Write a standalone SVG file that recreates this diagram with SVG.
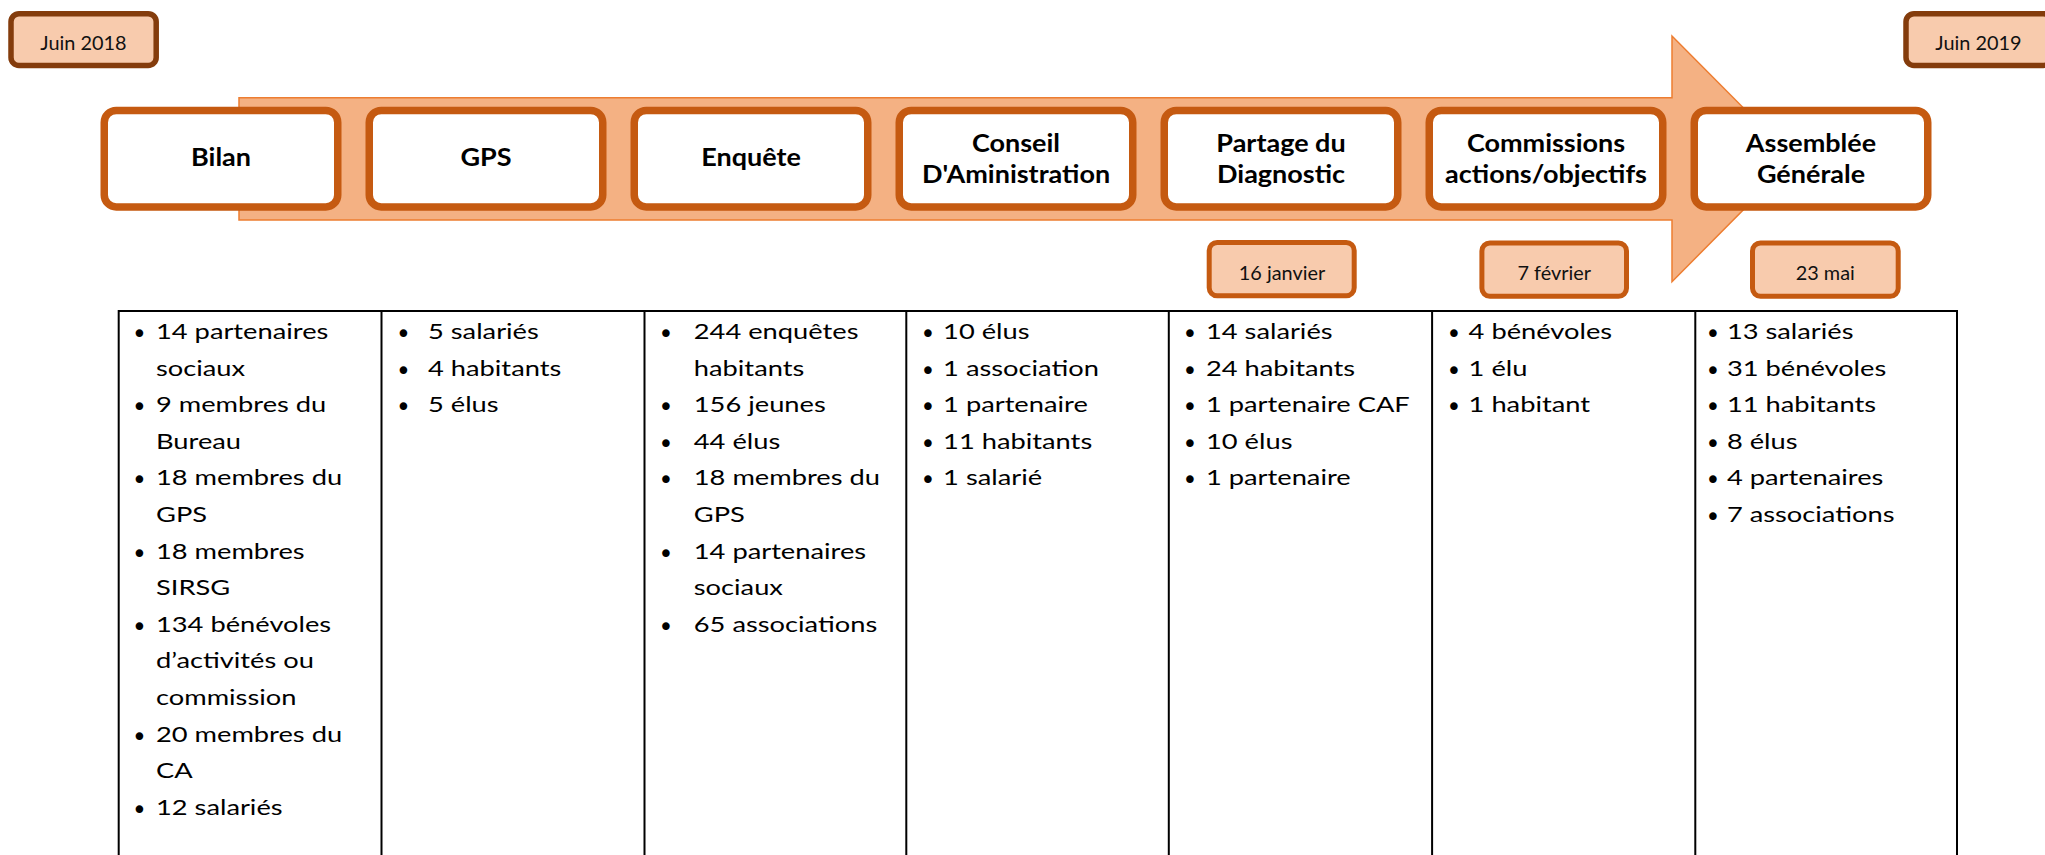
<svg xmlns="http://www.w3.org/2000/svg" width="2045" height="855" viewBox="0 0 2045 855">
<style>
.bg{fill:#ffffff}
.band{fill:#F4B183;stroke:#ED7D31;stroke-width:1.5}
.node{fill:#ffffff;stroke:#C55A11;stroke-width:7.5}
.date{fill:#F8CBAD;stroke:#C55A11;stroke-width:5}
.month{fill:#F8CBAD;stroke:#843C0C;stroke-width:5.5}
.nt{font-family:Lato,"Liberation Sans",sans-serif;font-weight:700;font-size:25px;fill:#000;text-anchor:middle}
.dt{font-family:Lato,"Liberation Sans",sans-serif;font-size:19.5px;fill:#111;text-anchor:middle}
.tt{font-family:Lato,"Liberation Sans",sans-serif;font-size:22px;fill:#000}
.bu{font-family:"DejaVu Sans",sans-serif;font-size:26px;fill:#000;text-anchor:middle}
.grid{stroke:#000;stroke-width:2;fill:none}
</style>
<rect class="bg" x="0" y="0" width="2045" height="855"/>

<g id="connectors">
<polygon id="timeline-arrow" class="band" points="239,97.7 1672,97.7 1672,36 1794,158.8 1672,281.7 1672,220 239,220"/>
</g>

<g id="month-start">
<rect class="month" x="11" y="13.7" width="145.2" height="51.8" rx="8"/>
<text class="dt" transform="translate(83.5,49.5) scale(1.02,1)">Juin 2018</text>
</g>
<g id="month-end">
<rect class="month" x="1906" y="13.7" width="145.2" height="51.8" rx="8"/>
<text class="dt" transform="translate(1978.5,49.5) scale(1.02,1)">Juin 2019</text>
</g>

<g id="n-bilan">
<rect class="node" x="104.25" y="110.45" width="233.5" height="96.5" rx="12"/>
<text class="nt" transform="translate(221,166) scale(1.08,1)">Bilan</text>
</g>
<g id="n-gps">
<rect class="node" x="369.25" y="110.45" width="233.5" height="96.5" rx="12"/>
<text class="nt" transform="translate(486,166) scale(1.08,1)">GPS</text>
</g>
<g id="n-enquete">
<rect class="node" x="634.25" y="110.45" width="233.5" height="96.5" rx="12"/>
<text class="nt" transform="translate(751,166) scale(1.08,1)">Enquête</text>
</g>
<g id="n-conseil">
<rect class="node" x="899.25" y="110.45" width="233.5" height="96.5" rx="12"/>
<text class="nt" transform="translate(1016,151.7) scale(1.08,1)">Conseil</text>
<text class="nt" transform="translate(1016,182.7) scale(1.08,1)">D'Aministration</text>
</g>
<g id="n-partage">
<rect class="node" x="1164.25" y="110.45" width="233.5" height="96.5" rx="12"/>
<text class="nt" transform="translate(1281,151.7) scale(1.08,1)">Partage du</text>
<text class="nt" transform="translate(1281,182.7) scale(1.08,1)">Diagnostic</text>
</g>
<g id="n-commissions">
<rect class="node" x="1429.25" y="110.45" width="233.5" height="96.5" rx="12"/>
<text class="nt" transform="translate(1546,151.7) scale(1.08,1)">Commissions</text>
<text class="nt" transform="translate(1546,182.7) scale(1.08,1)">actions/objectifs</text>
</g>
<g id="n-assemblee">
<rect class="node" x="1694.25" y="110.45" width="233.5" height="96.5" rx="12"/>
<text class="nt" transform="translate(1811,151.7) scale(1.08,1)">Assemblée</text>
<text class="nt" transform="translate(1811,182.7) scale(1.08,1)">Générale</text>
</g>

<g id="d-16janvier">
<rect class="date" x="1209.2" y="242.5" width="145" height="53.3" rx="8"/>
<text class="dt" transform="translate(1282,279.5) scale(1.02,1)">16 janvier</text>
</g>
<g id="d-7fevrier">
<rect class="date" x="1481.9" y="243" width="144.6" height="53.3" rx="8"/>
<text class="dt" transform="translate(1554.2,279.5) scale(1.02,1)">7 février</text>
</g>
<g id="d-23mai">
<rect class="date" x="1752.5" y="243" width="145.7" height="53.3" rx="8"/>
<text class="dt" transform="translate(1825.3,279.5) scale(1.02,1)">23 mai</text>
</g>

<g id="table">
<path class="grid" d="M118.7,311 H1957 M118.7,310 V860 M381.5,310 V860 M644.5,310 V860 M906.3,310 V860 M1168.8,310 V860 M1432.1,310 V860 M1695.3,310 V860 M1957,310 V860"/>

<g id="col-bilan">
<g class="bu">
<text x="139.5" y="343">•</text><text x="139.5" y="416.2">•</text><text x="139.5" y="489.4">•</text><text x="139.5" y="562.6">•</text><text x="139.5" y="635.8">•</text><text x="139.5" y="745.6">•</text><text x="139.5" y="818.8">•</text>
</g>
<g class="tt" transform="translate(156,0) scale(1.24,1)">
<text x="0" y="339">14 partenaires</text>
<text x="0" y="375.6">sociaux</text>
<text x="0" y="412.2">9 membres du</text>
<text x="0" y="448.8">Bureau</text>
<text x="0" y="485.4">18 membres du</text>
<text x="0" y="522">GPS</text>
<text x="0" y="558.6">18 membres</text>
<text x="0" y="595.2">SIRSG</text>
<text x="0" y="631.8">134 bénévoles</text>
<text x="0" y="668.4">d’activités ou</text>
<text x="0" y="705">commission</text>
<text x="0" y="741.6">20 membres du</text>
<text x="0" y="778.2">CA</text>
<text x="0" y="814.8">12 salariés</text>
</g>
</g>

<g id="col-gps">
<g class="bu">
<text x="403.5" y="343">•</text><text x="403.5" y="379.6">•</text><text x="403.5" y="416.2">•</text>
</g>
<g class="tt" transform="translate(428,0) scale(1.24,1)">
<text x="0" y="339">5 salariés</text>
<text x="0" y="375.6">4 habitants</text>
<text x="0" y="412.2">5 élus</text>
</g>
</g>

<g id="col-enquete">
<g class="bu">
<text x="666" y="343">•</text><text x="666" y="416.2">•</text><text x="666" y="452.8">•</text><text x="666" y="489.4">•</text><text x="666" y="562.6">•</text><text x="666" y="635.8">•</text>
</g>
<g class="tt" transform="translate(693.8,0) scale(1.24,1)">
<text x="0" y="339">244 enquêtes</text>
<text x="0" y="375.6">habitants</text>
<text x="0" y="412.2">156 jeunes</text>
<text x="0" y="448.8">44 élus</text>
<text x="0" y="485.4">18 membres du</text>
<text x="0" y="522">GPS</text>
<text x="0" y="558.6">14 partenaires</text>
<text x="0" y="595.2">sociaux</text>
<text x="0" y="631.8">65 associations</text>
</g>
</g>

<g id="col-conseil">
<g class="bu">
<text x="927.8" y="343">•</text><text x="927.8" y="379.6">•</text><text x="927.8" y="416.2">•</text><text x="927.8" y="452.8">•</text><text x="927.8" y="489.4">•</text>
</g>
<g class="tt" transform="translate(943.1,0) scale(1.24,1)">
<text x="0" y="339">10 élus</text>
<text x="0" y="375.6">1 association</text>
<text x="0" y="412.2">1 partenaire</text>
<text x="0" y="448.8">11 habitants</text>
<text x="0" y="485.4">1 salarié</text>
</g>
</g>

<g id="col-partage">
<g class="bu">
<text x="1190" y="343">•</text><text x="1190" y="379.6">•</text><text x="1190" y="416.2">•</text><text x="1190" y="452.8">•</text><text x="1190" y="489.4">•</text>
</g>
<g class="tt" transform="translate(1206,0) scale(1.24,1)">
<text x="0" y="339">14 salariés</text>
<text x="0" y="375.6">24 habitants</text>
<text x="0" y="412.2">1 partenaire CAF</text>
<text x="0" y="448.8">10 élus</text>
<text x="0" y="485.4">1 partenaire</text>
</g>
</g>

<g id="col-commissions">
<g class="bu">
<text x="1453.9" y="343">•</text><text x="1453.9" y="379.6">•</text><text x="1453.9" y="416.2">•</text>
</g>
<g class="tt" transform="translate(1468.6,0) scale(1.24,1)">
<text x="0" y="339">4 bénévoles</text>
<text x="0" y="375.6">1 élu</text>
<text x="0" y="412.2">1 habitant</text>
</g>
</g>

<g id="col-assemblee">
<g class="bu">
<text x="1712.9" y="343">•</text><text x="1712.9" y="379.6">•</text><text x="1712.9" y="416.2">•</text><text x="1712.9" y="452.8">•</text><text x="1712.9" y="489.4">•</text><text x="1712.9" y="526">•</text>
</g>
<g class="tt" transform="translate(1726.9,0) scale(1.24,1)">
<text x="0" y="339">13 salariés</text>
<text x="0" y="375.6">31 bénévoles</text>
<text x="0" y="412.2">11 habitants</text>
<text x="0" y="448.8">8 élus</text>
<text x="0" y="485.4">4 partenaires</text>
<text x="0" y="522">7 associations</text>
</g>
</g>
</g>
</svg>
